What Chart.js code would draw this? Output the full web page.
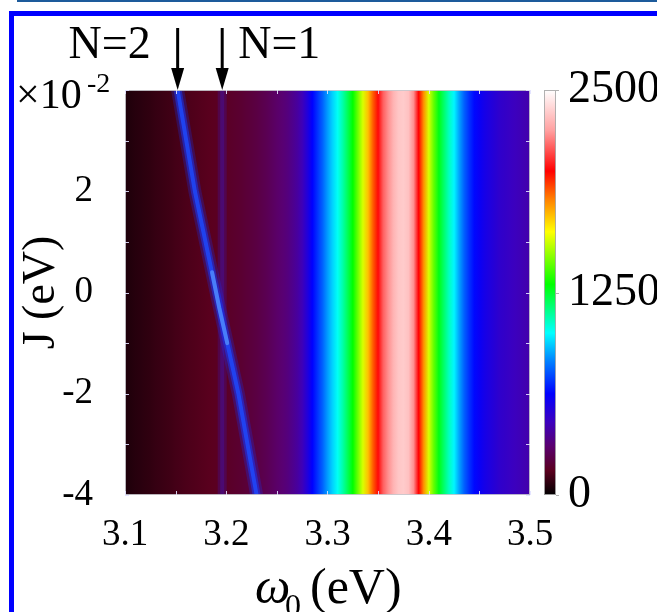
<!DOCTYPE html>
<html><head><meta charset="utf-8">
<script src="https://cdn.jsdelivr.net/npm/chart.js@4.4.1/dist/chart.umd.min.js"></script>
<style>
html,body{margin:0;padding:0;background:#fff;}
#wrap{position:relative;width:657px;height:612px;overflow:hidden;background:#fff;}
#topline{position:absolute;left:17px;top:0;width:640px;height:2px;background:#1d5b9b;}
#frame{position:absolute;left:9px;top:11px;width:700px;height:700px;border-left:5px solid #0000ff;border-top:5px solid #0000ff;}
canvas{position:absolute;left:0;top:0;}
</style></head><body>
<div id="wrap"><div id="topline"></div><div id="frame"></div><canvas id="c" width="657" height="612"></canvas></div>
<script>
// ---- data ----
const omega = [3.100,3.105,3.110,3.115,3.120,3.125,3.130,3.135,3.140,3.145,
  3.150,3.155,3.160,3.165,3.170,3.175,3.180,3.185,3.190,3.195,
  3.200,3.205,3.210,3.215,3.220,3.225,3.230,3.235,3.240,3.245,
  3.250,3.255,3.260,3.265,3.270,3.275,3.280,3.285,3.290,3.295,
  3.300,3.305,3.310,3.315,3.320,3.325,3.330,3.335,3.340,3.345,
  3.350,3.355,3.360,3.365,3.370,3.375,3.380,3.385,3.390,3.395,
  3.400,3.405,3.410,3.415,3.420,3.425,3.430,3.435,3.440,3.445,
  3.450,3.455,3.460,3.465,3.470,3.475,3.480,3.485,3.490,3.495,3.500];
const intensity = [50,55,63,68,75,80,88,93,100,105,
  113,118,125,130,135,140,145,150,155,160,
  165,173,180,188,198,208,220,235,250,268,
  288,305,325,355,388,438,525,625,700,775,
  863,938,1013,1100,1200,1300,1438,1575,1725,1875,
  2013,2150,2225,2300,2350,2363,2338,2225,2000,1800,
  1575,1425,1275,1175,1075,988,875,775,700,638,
  600,563,538,513,488,475,463,450,438,425,413];
const jRange = [-4, 4];                 // J axis (x10^-2 eV)
const n1Omega = [3.196, 3.196];         // N=1 mode line
const n1J = [-4, 4];
const n2Omega = [3.152, 3.169, 3.190, 3.212, 3.230]; // N=2 mode line
const n2J = [4, 2, 0, -2, -4];
const n2PeakOmega = [3.186, 3.193, 3.201];
const n2PeakJ = [0.4, -0.3, -1.0];
const arrowOmega = [3.152, 3.196];
const arrowLabels = ['N=2', 'N=1'];
const cbarMax = 2500;
const cbarTicks = [0, 1250, 2500];

// ---- colormap (style) ----
const cmapStops = [0, 0.06, 0.12, 0.18, 0.25, 0.33, 0.40, 0.52, 0.65, 0.73, 0.80, 0.90, 1.0];
const cmapColors = [[0,0,0],[90,0,30],[90,0,110],[60,0,190],[0,0,255],[0,128,255],[0,255,255],[0,255,0],[255,255,0],[255,128,0],[255,0,0],[255,160,160],[255,255,255]];
function cmap(f){
  f = Math.max(0, Math.min(1, f));
  for (let i = 1; i < cmapStops.length; i++) {
    if (f <= cmapStops[i]) {
      const t = (f - cmapStops[i-1]) / (cmapStops[i] - cmapStops[i-1]);
      const a = cmapColors[i-1], b = cmapColors[i];
      return 'rgb(' + a.map((v,k)=>Math.round(v + (b[k]-v)*t)).join(',') + ')';
    }
  }
  return 'rgb(255,255,255)';
}

const FONT = "'Liberation Serif','Times New Roman',serif";
let heatGrad = null, heatKey = '';
function heatFill(ctx){
  const chart = ctx.chart, area = chart.chartArea;
  if (!area) return 'rgba(0,0,0,0)';
  const xs = chart.scales.x;
  const p0 = xs.getPixelForValue(omega[0]), p1 = xs.getPixelForValue(omega[omega.length-1]);
  const key = p0 + '_' + p1;
  if (heatGrad && key === heatKey) return heatGrad;
  const g = chart.ctx.createLinearGradient(p0, 0, p1, 0);
  omega.forEach((w, i) => {
    g.addColorStop((xs.getPixelForValue(w) - p0) / (p1 - p0), cmap(intensity[i] / cbarMax));
  });
  heatGrad = g; heatKey = key;
  return g;
}

const decor = {
  id: 'decor',
  afterDatasetsDraw(chart){
    const {ctx, chartArea: a} = chart;
    const xs = chart.scales.x, ys = chart.scales.y, y2 = chart.scales.y2;
    ctx.save();
    // plot frame
    ctx.strokeStyle = 'rgba(200,200,205,0.9)'; ctx.lineWidth = 1;
    ctx.strokeRect(a.left + 0.5, a.top + 0.5, a.width - 1, a.height - 1);
    // inward minor ticks
    ctx.strokeStyle = 'rgba(225,225,255,0.9)';
    ctx.beginPath();
    xs.ticks.forEach(t => {
      const px = Math.round(xs.getPixelForValue(t.value)) + 0.5;
      ctx.moveTo(px, a.bottom); ctx.lineTo(px, a.bottom - 4);
      ctx.moveTo(px, a.top); ctx.lineTo(px, a.top + 4);
    });
    ys.ticks.forEach(t => {
      const py = Math.round(ys.getPixelForValue(t.value)) + 0.5;
      ctx.moveTo(a.left, py); ctx.lineTo(a.left + 4, py);
      ctx.moveTo(a.right, py); ctx.lineTo(a.right - 4, py);
    });
    ctx.stroke();
    // colorbar
    const cbL = a.right + 14, cbW = 12;
    const cbTop = y2.getPixelForValue(cbarMax), cbBot = y2.getPixelForValue(0);
    const g = ctx.createLinearGradient(0, cbBot, 0, cbTop);
    cmapStops.forEach((s, i) => g.addColorStop(s, 'rgb(' + cmapColors[i].join(',') + ')'));
    ctx.fillStyle = g;
    ctx.fillRect(cbL, cbTop, cbW, cbBot - cbTop);
    ctx.strokeStyle = 'rgba(170,170,170,0.9)';
    ctx.strokeRect(cbL + 0.5, cbTop + 0.5, cbW - 1, cbBot - cbTop - 1);
    ctx.beginPath();
    cbarTicks.forEach(v => {
      const py = Math.round(y2.getPixelForValue(v)) + 0.5;
      ctx.moveTo(cbL + cbW, py); ctx.lineTo(cbL + cbW + 3, py);
    });
    ctx.stroke();
    // arrows and N labels
    ctx.fillStyle = '#000'; ctx.strokeStyle = '#000'; ctx.lineWidth = 3;
    arrowOmega.forEach((w, i) => {
      const px = xs.getPixelForValue(w);
      ctx.beginPath(); ctx.moveTo(px, 28); ctx.lineTo(px, a.top - 16); ctx.stroke();
      ctx.beginPath(); ctx.moveTo(px - 6.5, a.top - 22); ctx.lineTo(px + 6.5, a.top - 22); ctx.lineTo(px, a.top); ctx.closePath(); ctx.fill();
      ctx.font = '46px ' + FONT; ctx.textBaseline = 'alphabetic';
      if (i === 0) { ctx.textAlign = 'right'; ctx.fillText(arrowLabels[i], px - 27, 58); }
      else { ctx.textAlign = 'left'; ctx.fillText(arrowLabels[i], px + 16, 58); }
    });
    // x10^-2
    ctx.textAlign = 'left';
    ctx.font = '42px ' + FONT; ctx.fillText('\u00d710', 16, 108);
    ctx.font = '28px ' + FONT; ctx.fillText('-2', 87, 92);
    // y title
    ctx.save();
    ctx.translate(42, (a.top + a.bottom) / 2);
    ctx.rotate(-Math.PI / 2);
    ctx.textAlign = 'center'; ctx.textBaseline = 'middle';
    ctx.font = '46px ' + FONT; ctx.fillText('J (eV)', 0, 0);
    ctx.restore();
    // x title  ω0 (eV)
    ctx.textAlign = 'left'; ctx.textBaseline = 'alphabetic';
    ctx.font = 'italic 50px ' + FONT; ctx.fillText('\u03c9', 255, 603);
    ctx.font = '32px ' + FONT; ctx.fillText('0', 285, 616);
    ctx.font = '50px ' + FONT; ctx.fillText('(eV)', 310, 603);
    ctx.restore();
  }
};

new Chart(document.getElementById('c'), {
  type: 'bar',
  data: {
    datasets: [
      { type: 'bar', label: 'intensity',
        data: omega.map((w, i) => ({x: w, y: jRange.slice(), v: intensity[i]})),
        backgroundColor: heatFill, borderWidth: 0, barPercentage: 1, categoryPercentage: 1,
        inflateAmount: 0.6, clip: 0, order: 6 },
      { type: 'line', label: 'N=1 glow',
        data: n1Omega.map((w, i) => ({x: w, y: n1J[i]})),
        borderColor: 'rgba(50,30,255,0.18)', borderWidth: 9, pointRadius: 0, clip: 0, order: 5 },
      { type: 'line', label: 'N=1',
        data: n1Omega.map((w, i) => ({x: w, y: n1J[i]})),
        borderColor: 'rgba(50,30,255,0.22)', borderWidth: 4, pointRadius: 0, clip: 0, order: 4 },
      { type: 'line', label: 'N=2 glow',
        data: n2Omega.map((w, i) => ({x: w, y: n2J[i]})),
        borderColor: 'rgba(20,50,255,0.25)', borderWidth: 13, pointRadius: 0, clip: 0, order: 3 },
      { type: 'line', label: 'N=2 mid',
        data: n2Omega.map((w, i) => ({x: w, y: n2J[i]})),
        borderColor: 'rgba(20,55,255,0.5)', borderWidth: 8, pointRadius: 0, clip: 0, order: 2 },
      { type: 'line', label: 'N=2',
        data: n2Omega.map((w, i) => ({x: w, y: n2J[i]})),
        borderColor: 'rgba(30,75,255,0.8)', borderWidth: 4, pointRadius: 0, clip: 0, order: 1 },
      { type: 'line', label: 'N=2 peak',
        data: n2PeakOmega.map((w, i) => ({x: w, y: n2PeakJ[i]})),
        borderColor: 'rgba(100,165,255,0.6)', borderWidth: 4, pointRadius: 0, clip: 0, order: 0,
        borderCapStyle: 'round' }
    ]
  },
  options: {
    responsive: false, animation: false, devicePixelRatio: 1,
    layout: { padding: { top: 90, left: 0, right: 0, bottom: 0 } },
    plugins: { legend: { display: false }, tooltip: { enabled: false } },
    scales: {
      x: { type: 'linear', min: 3.1, max: 3.5, offset: false,
        afterFit(s){ s.height = 117; },
        grid: { display: false }, border: { display: false },
        ticks: { stepSize: 0.05, autoSkip: false, maxRotation: 0, minRotation: 0, padding: 10, color: '#000',
          font: { family: FONT, size: 37 },
          callback(v){ const k = Math.round(v * 100); return (k % 10 === 0) ? (k / 100).toFixed(1) : ''; } } },
      y: { type: 'linear', min: -4, max: 4,
        afterFit(s){ s.width = 125; },
        grid: { display: false }, border: { display: false },
        ticks: { stepSize: 1, autoSkip: false, padding: 24, color: '#000',
          font: { family: FONT, size: 37 },
          callback(v){ const k = Math.round(v); return (k % 2 === 0 && k !== 4) ? String(k) : ''; } } },
      y2: { type: 'linear', position: 'right', min: 0, max: cbarMax,
        afterFit(s){ s.width = 127; },
        grid: { display: false, drawOnChartArea: false }, border: { display: false },
        ticks: { stepSize: 1250, autoSkip: false, padding: 30, color: '#000',
          font: { family: FONT, size: 46 },
          callback(v){ return String(Math.round(v)); } } }
    }
  },
  plugins: [decor]
});
</script>
</body></html>
